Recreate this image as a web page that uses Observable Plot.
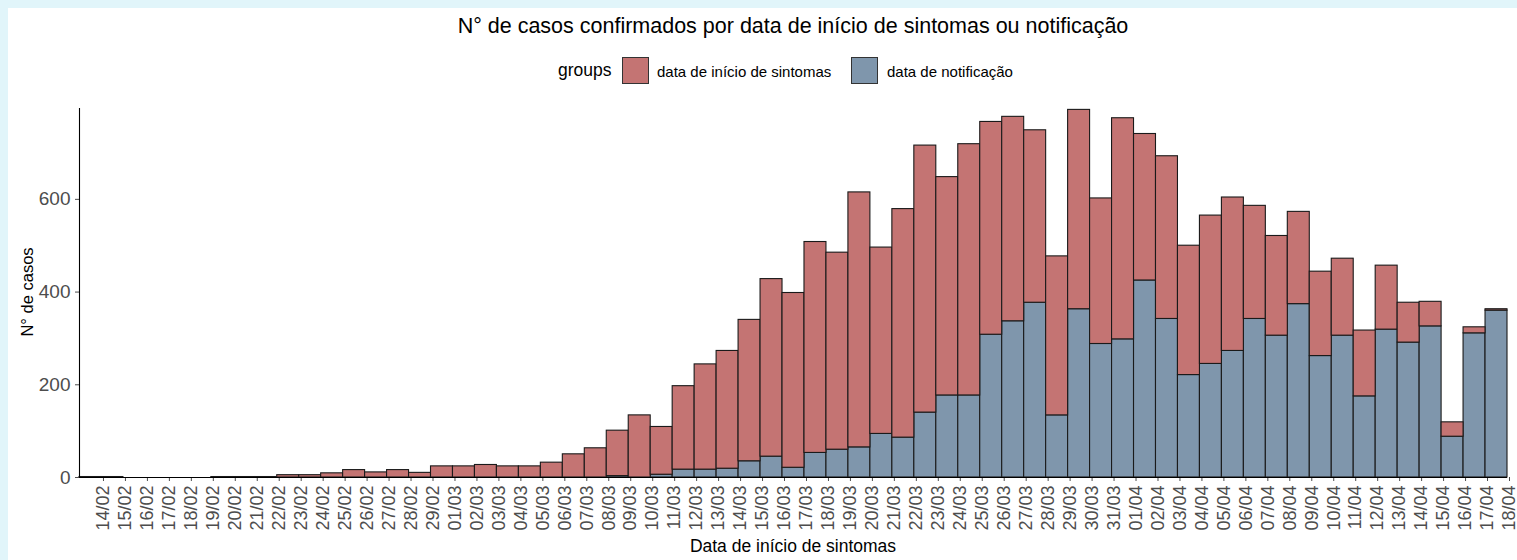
<!DOCTYPE html>
<html>
<head>
<meta charset="utf-8">
<script src="https://cdn.jsdelivr.net/npm/d3@7"></script>
<script src="https://cdn.jsdelivr.net/npm/@observablehq/plot@0.6"></script>
<style>
  html, body { margin: 0; padding: 0; }
  body { width: 1517px; height: 560px; background: #E1F5FA; position: relative; overflow: hidden;
         font-family: "Liberation Sans", Arial, sans-serif; }
  #panel { position: absolute; left: 8px; top: 8px; right: 0; bottom: 0; background: #fff; }
  .abs { position: absolute; white-space: nowrap; }
  #title { left: 0; width: 1586px; top: 16px; text-align: center; font-size: 21.5px; line-height: 21.5px; color: #000; }
  #legend .key { position: absolute; width: 25px; height: 25px; border: 1px solid #333; top: 57px; }
  #legend .lab { position: absolute; font-size: 15px; line-height: 15px; top: 64px; color: #000; }
  #groups { font-size: 17.5px; line-height: 17.5px; top: 62px; left: 558px; color: #000; }
  #ylab { font-size: 16.5px; line-height: 16.5px; left: 27px; top: 292px; transform: translate(-50%, -50%) rotate(-90deg); color: #000; }
  #xlab { font-size: 17.5px; line-height: 17.5px; left: 793px; top: 538px; transform: translateX(-50%); color: #000; }
  #chart { position: absolute; left: 0; top: 100px; }
</style>
</head>
<body>
<div id="panel"></div>
<div id="title" class="abs">N° de casos confirmados por data de início de sintomas ou notificação</div>
<div id="legend">
  <div id="groups" class="abs">groups</div>
  <div class="key" style="left:622px;background:#C47473"></div>
  <div class="lab abs" style="left:657px">data de início de sintomas</div>
  <div class="key" style="left:851px;background:#7F96AC"></div>
  <div class="lab abs" style="left:887px">data de notificação</div>
</div>
<div id="ylab" class="abs">N° de casos</div>
<div id="xlab" class="abs">Data de início de sintomas</div>
<div id="chart"></div>
<script>
// Bar dates (left edge of each one-day bar)
const dias = [
  "13/02","14/02","15/02","16/02","17/02","18/02","19/02","20/02","21/02","22/02",
  "23/02","24/02","25/02","26/02","27/02","28/02","29/02","01/03","02/03","03/03",
  "04/03","05/03","06/03","07/03","08/03","09/03","10/03","11/03","12/03","13/03",
  "14/03","15/03","16/03","17/03","18/03","19/03","20/03","21/03","22/03","23/03",
  "24/03","25/03","26/03","27/03","28/03","29/03","30/03","31/03","01/04","02/04",
  "03/04","04/04","05/04","06/04","07/04","08/04","09/04","10/04","11/04","12/04",
  "13/04","14/04","15/04","16/04","17/04"
];
// Cases by notification date (bottom segment)
const notificacao = [
  0,0,0,0,0,0,0,0,0,0,
  0,0,0,0,0,0,0,0,0,0,
  0,0,0,0,3,0,6,17,17,19,
  35,45,21,53,60,65,94,86,140,177,
  177,308,337,377,134,363,288,298,425,342,
  221,245,273,342,306,374,262,306,175,319,
  291,326,88,311,360
];
// Cases by symptom onset date (top segment)
const sintomas = [
  1,1,0,0,0,0,1,1,1,5,
  5,9,16,11,16,10,24,24,27,24,
  24,32,50,63,98,134,103,180,227,254,
  305,383,377,455,425,550,402,493,576,471,
  542,459,441,372,343,430,314,477,316,351,
  279,320,331,244,215,199,182,166,142,138,
  86,53,31,13,3
];
const tickLabels = [
  "14/02","15/02","16/02","17/02","18/02","19/02","20/02","21/02","22/02","23/02",
  "24/02","25/02","26/02","27/02","28/02","29/02","01/03","02/03","03/03","04/03",
  "05/03","06/03","07/03","08/03","09/03","10/03","11/03","12/03","13/03","14/03",
  "15/03","16/03","17/03","18/03","19/03","20/03","21/03","22/03","23/03","24/03",
  "25/03","26/03","27/03","28/03","29/03","30/03","31/03","01/04","02/04","03/04",
  "04/04","05/04","06/04","07/04","08/04","09/04","10/04","11/04","12/04","13/04",
  "14/04","15/04","16/04","17/04","18/04"
];
const yTicks = [0, 200, 400, 600];
const grupos = ["data de início de sintomas", "data de notificação"];
const cores = ["#C47473", "#7F96AC"];

const parse = s => { const [d, m] = s.split("/").map(Number); return new Date(Date.UTC(2020, m - 1, d)); };

const rows = [];
dias.forEach((d, i) => { if (notificacao[i] > 0) rows.push({x1: parse(d), x2: d3.utcDay.offset(parse(d), 1), group: grupos[1], value: notificacao[i]}); });
dias.forEach((d, i) => { if (sintomas[i] > 0) rows.push({x1: parse(d), x2: d3.utcDay.offset(parse(d), 1), group: grupos[0], value: sintomas[i]}); });

const xmin = parse(dias[0]);
const xmax = parse(tickLabels[tickLabels.length - 1]);

const chart = Plot.plot({
  width: 1517,
  height: 460,
  marginTop: 8,
  marginBottom: 83,
  marginLeft: 79,
  marginRight: 10,
  style: {fontFamily: "'Liberation Sans', Arial, sans-serif", background: "transparent", overflow: "visible"},
  x: {type: "utc", domain: [xmin, xmax]},
  y: {domain: [0, 796]},
  color: {domain: grupos, range: cores},
  marks: [
    Plot.rectY(rows, {x1: "x1", x2: "x2", y: "value", fill: "group", stroke: "#1a1a1a", strokeWidth: 1.1}),
    Plot.axisX({ticks: tickLabels.map(parse), tickFormat: d3.utcFormat("%d/%m"), tickRotate: -90,
                tickSize: 4, tickPadding: 4, fontSize: 18, color: "#4D4D4D", dx: 2, label: null}),
    Plot.axisY({ticks: yTicks, tickSize: 4, tickPadding: 5, fontSize: 19, color: "#4D4D4D", label: null}),
    Plot.ruleY([0], {stroke: "#000", strokeWidth: 1.1}),
    Plot.ruleX([xmin], {stroke: "#000", strokeWidth: 1.1})
  ]
});
document.getElementById("chart").appendChild(chart);
</script>
</body>
</html>
